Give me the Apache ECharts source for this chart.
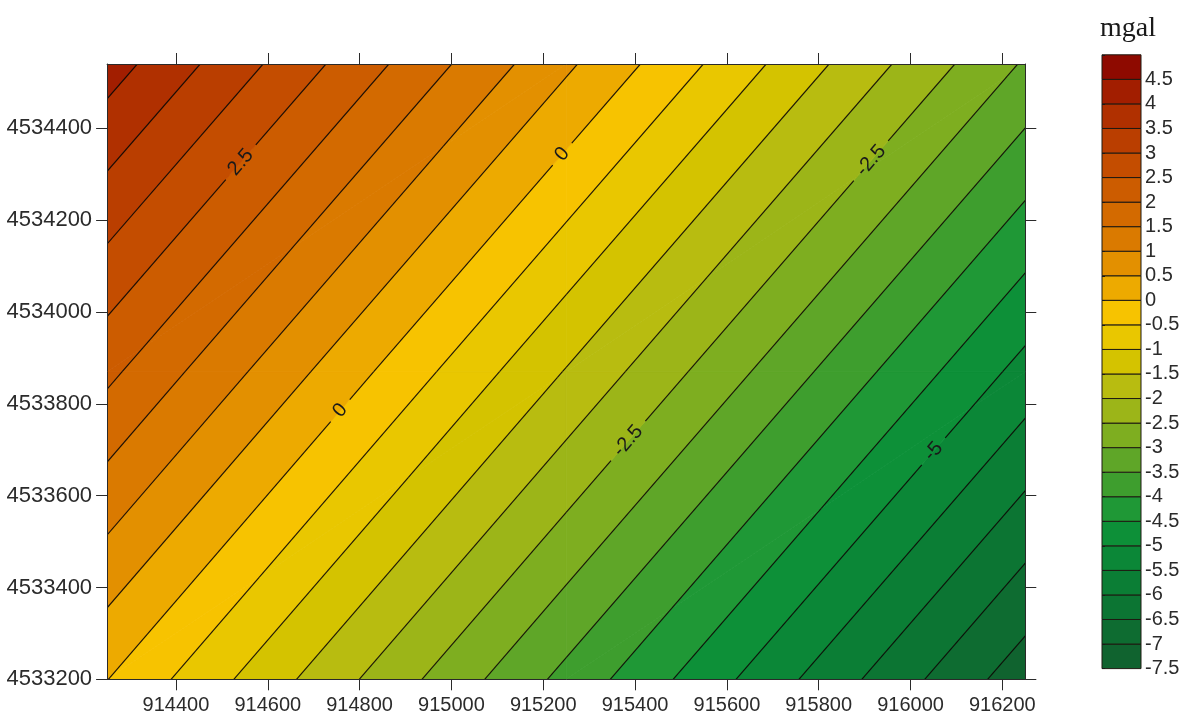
<!DOCTYPE html>
<html>
<head>
<meta charset="utf-8">
<script src="https://cdn.jsdelivr.net/npm/echarts@6/dist/echarts.min.js"></script>
<style>
  html, body { margin: 0; padding: 0; background: #ffffff; }
  #chart { width: 1192px; height: 715px; }
</style>
</head>
<body>
<div id="chart"></div>
<script>
// Gravity anomaly (mgal) sampled on a regular easting / northing lattice
const gridEastings = [914250, 915250, 916250];
const gridNorthings = [4533200, 4533870, 4534540];
// rows run south -> north, columns west -> east
const gridValues = [
  [0.01, -3.65, -7.30],
  [2.12, -1.53, -5.18],
  [4.24, 0.59, -3.06]
];

// contour levels (also the colour scale boundaries)
const contourLevels = [-7.5, -7, -6.5, -6, -5.5, -5, -4.5, -4, -3.5, -3, -2.5, -2, -1.5,
  -1, -0.5, 0, 0.5, 1, 1.5, 2, 2.5, 3, 3.5, 4, 4.5, 5];

// fill colour of each band, lowest band first
const bandColors = [
  '#10632f', '#0e6c31', '#0c7533', '#0b7e35', '#0b8737', '#0d9038', '#1f9836', '#3e9e2e',
  '#5fa628', '#7eae20', '#9cb518', '#b8bc10', '#d4c300', '#e9c700', '#f7c300', '#edaa00',
  '#e39000', '#da7a00', '#d36a00', '#cc5c00', '#c44d00', '#ba3e00', '#b03000', '#a21e00',
  '#8e0a00'
];

// axis tick positions
const eastingTicks = [914400, 914600, 914800, 915000, 915200, 915400, 915600, 915800, 916000, 916200];
const northingTicks = [4533200, 4533400, 4533600, 4533800, 4534000, 4534200, 4534400];

// inline contour labels: level and approximate location
const labelLevels = [2.5, 0, -2.5, 0, -2.5, -5];
const labelEastings = [914540, 915241, 915912, 914757, 915383, 916047];
const labelNorthings = [4534327, 4534344, 4534331, 4533786, 4533721, 4533699];

const FONT = '"Liberation Sans", Arial, sans-serif';

// ---- field helpers: the lattice is split into triangles, linear inside each ----
function buildTriangles() {
  const tris = [];
  const node = (i, j) => [gridEastings[i], gridNorthings[j], gridValues[j][i]];
  for (let j = 0; j < gridNorthings.length - 1; j++) {
    for (let i = 0; i < gridEastings.length - 1; i++) {
      const a = node(i, j), b = node(i + 1, j), c = node(i + 1, j + 1), d = node(i, j + 1);
      tris.push([a, b, c], [a, c, d]);
    }
  }
  return tris;
}
const triangles = buildTriangles();

function trianglePlane(tri) {
  const [a, b, c] = tri;
  const ux = b[0] - a[0], uy = b[1] - a[1], uz = b[2] - a[2];
  const wx = c[0] - a[0], wy = c[1] - a[1], wz = c[2] - a[2];
  const det = ux * wy - uy * wx;
  const ge = (uz * wy - uy * wz) / det;
  const gn = (ux * wz - uz * wx) / det;
  return { ge, gn, at: (e, n) => a[2] + ge * (e - a[0]) + gn * (n - a[1]) };
}

function findTriangle(e, n) {
  for (const tri of triangles) {
    const [a, b, c] = tri;
    const d = (b[1] - c[1]) * (a[0] - c[0]) + (c[0] - b[0]) * (a[1] - c[1]);
    const l1 = ((b[1] - c[1]) * (e - c[0]) + (c[0] - b[0]) * (n - c[1])) / d;
    const l2 = ((c[1] - a[1]) * (e - c[0]) + (a[0] - c[0]) * (n - c[1])) / d;
    const l3 = 1 - l1 - l2;
    if (l1 >= -1e-9 && l2 >= -1e-9 && l3 >= -1e-9) return tri;
  }
  return triangles[0];
}

// keep the part of a polygon above (or below) a level
function clipLevel(poly, level, keepAbove) {
  const out = [];
  for (let k = 0; k < poly.length; k++) {
    const p = poly[k], q = poly[(k + 1) % poly.length];
    const pin = keepAbove ? p[2] >= level : p[2] <= level;
    const qin = keepAbove ? q[2] >= level : q[2] <= level;
    if (pin) out.push(p);
    if (pin !== qin) {
      const t = (level - p[2]) / (q[2] - p[2]);
      out.push([p[0] + t * (q[0] - p[0]), p[1] + t * (q[1] - p[1]), level]);
    }
  }
  return out;
}

function levelSegments(level) {
  const segs = [];
  triangles.forEach(tri => {
    const pts = [];
    for (let k = 0; k < 3; k++) {
      const p = tri[k], q = tri[(k + 1) % 3];
      if ((p[2] >= level) !== (q[2] >= level)) {
        const t = (level - p[2]) / (q[2] - p[2]);
        pts.push([p[0] + t * (q[0] - p[0]), p[1] + t * (q[1] - p[1])]);
      }
    }
    if (pts.length === 2) segs.push(pts);
  });
  return segs;
}

// snap a label location onto its contour and get the line direction
function labelPlacement(i) {
  const tri = findTriangle(labelEastings[i], labelNorthings[i]);
  const pl = trianglePlane(tri);
  const e0 = labelEastings[i], n0 = labelNorthings[i];
  const g2 = pl.ge * pl.ge + pl.gn * pl.gn;
  const dz = labelLevels[i] - pl.at(e0, n0);
  return { e: e0 + dz * pl.ge / g2, n: n0 + dz * pl.gn / g2, te: -pl.gn, tn: pl.ge };
}

function textWidth(str, size) {
  let w = 0;
  for (const ch of str) w += ch === '.' ? 0.278 : ch === '-' ? 0.333 : 0.556;
  return w * size;
}

const LABEL_SIZE = 20;

function labelText(v) { return String(v); }

function labelGeometry(api, i) {
  const pl = labelPlacement(i);
  const c = api.coord([pl.e, pl.n]);
  const len = Math.sqrt(pl.te * pl.te + pl.tn * pl.tn);
  const d = api.coord([pl.e + pl.te / len * 100, pl.n + pl.tn / len * 100]);
  let dx = d[0] - c[0], dy = d[1] - c[1];
  if (dx < 0) { dx = -dx; dy = -dy; }
  const rot = Math.atan2(-dy, dx);
  const r = textWidth(labelText(labelLevels[i]), LABEL_SIZE) / 2 + 9;
  return { c, rot, r };
}

// split a pixel segment, removing parts inside label circles
function cutSegment(a, b, holes) {
  let pieces = [[0, 1]];
  const vx = b[0] - a[0], vy = b[1] - a[1];
  const A = vx * vx + vy * vy;
  holes.forEach(h => {
    const fx = a[0] - h.c[0], fy = a[1] - h.c[1];
    const B = 2 * (fx * vx + fy * vy);
    const C = fx * fx + fy * fy - h.r * h.r;
    const disc = B * B - 4 * A * C;
    if (disc <= 0 || A === 0) return;
    const s = Math.sqrt(disc);
    const t1 = (-B - s) / (2 * A), t2 = (-B + s) / (2 * A);
    const next = [];
    pieces.forEach(([u, v]) => {
      if (t2 <= u || t1 >= v) { next.push([u, v]); return; }
      if (t1 > u) next.push([u, t1]);
      if (t2 < v) next.push([t2, v]);
    });
    pieces = next;
  });
  return pieces.map(([u, v]) => [[a[0] + u * vx, a[1] + u * vy], [a[0] + v * vx, a[1] + v * vy]]);
}

const bandItems = bandColors.map((c, i) => [gridEastings[0], gridNorthings[0], i]);
const levelItems = contourLevels.map((lv, i) => [gridEastings[0], gridNorthings[0], i]);
const labelItems = labelLevels.map((lv, i) => [labelEastings[i], labelNorthings[i], i]);
const legendItems = bandColors.map((c, i) => [0, contourLevels[i], contourLevels[i + 1], i]);

const axisLineStyle = { color: '#2a2a2a', width: 1 };
const axisTickStyle = { color: '#2a2a2a', width: 1 };

const option = {
  animation: false,
  backgroundColor: '#ffffff',
  grid: [
    { left: 107.1, top: 64, width: 918.2, height: 615.3, containLabel: false, outerBoundsMode: 'none' },
    { left: 1102, top: 54.8, width: 39, height: 613.8, containLabel: false, outerBoundsMode: 'none' }
  ],
  graphic: [
    {
      type: 'text', left: 1100, top: 15, z: 10,
      style: { text: 'mgal', font: '28px "Liberation Serif", "Times New Roman", serif', fill: '#1a1a1a' }
    }
  ],
  xAxis: [
    {
      type: 'value', gridIndex: 0, position: 'bottom', min: 914250, max: 916250, z: 5,
      axisLine: { show: true, onZero: false, lineStyle: axisLineStyle },
      axisTick: { show: true, customValues: eastingTicks, length: 11, lineStyle: axisTickStyle },
      axisLabel: {
        show: true, customValues: eastingTicks, fontSize: 20, fontFamily: FONT, color: '#2b2b2b', margin: 16,
        formatter: v => String(v)
      },
      splitLine: { show: false }
    },
    {
      type: 'value', gridIndex: 0, position: 'top', min: 914250, max: 916250, z: 5,
      axisLine: { show: true, onZero: false, lineStyle: axisLineStyle },
      axisTick: { show: true, customValues: eastingTicks, length: 11, lineStyle: axisTickStyle },
      axisLabel: { show: false },
      splitLine: { show: false }
    },
    {
      type: 'value', gridIndex: 1, min: 0, max: 1, show: false
    }
  ],
  yAxis: [
    {
      type: 'value', gridIndex: 0, position: 'left', min: 4533200, max: 4534540, z: 5,
      axisLine: { show: true, onZero: false, lineStyle: axisLineStyle },
      axisTick: { show: true, customValues: northingTicks, length: 11, lineStyle: axisTickStyle },
      axisLabel: {
        show: true, customValues: northingTicks, fontSize: 22, fontFamily: FONT, color: '#2b2b2b', margin: 15,
        formatter: v => String(v)
      },
      splitLine: { show: false }
    },
    {
      type: 'value', gridIndex: 0, position: 'right', min: 4533200, max: 4534540, z: 5,
      axisLine: { show: true, onZero: false, lineStyle: axisLineStyle },
      axisTick: { show: true, customValues: northingTicks, length: 11, lineStyle: axisTickStyle },
      axisLabel: { show: false },
      splitLine: { show: false }
    },
    {
      type: 'value', gridIndex: 1, position: 'right', min: -7.5, max: 5, interval: 0.5, z: 5,
      axisLine: { show: false },
      axisTick: { show: true, length: 3, lineStyle: { color: '#1a1a1a', width: 1 } },
      axisLabel: {
        show: true, fontSize: 20, fontFamily: FONT, color: '#2b2b2b', margin: 4,
        formatter: v => (v === 5 ? '' : String(v))
      },
      splitLine: { show: false }
    }
  ],
  series: [
    {
      // filled contour bands
      type: 'custom', name: 'bands', xAxisIndex: 0, yAxisIndex: 0, clip: true, z: 1,
      data: bandItems,
      renderItem(params, api) {
        const band = api.value(2);
        const lo = contourLevels[band], hi = contourLevels[band + 1];
        const color = bandColors[band];
        const children = [];
        triangles.forEach(tri => {
          let poly = clipLevel(tri, lo, true);
          if (poly.length < 3) return;
          poly = clipLevel(poly, hi, false);
          if (poly.length < 3) return;
          children.push({
            type: 'polygon',
            shape: { points: poly.map(p => api.coord([p[0], p[1]])) },
            style: { fill: color, stroke: color, lineWidth: 0.8 }
          });
        });
        return { type: 'group', children };
      }
    },
    {
      // contour lines, broken where a label sits
      type: 'custom', name: 'contours', xAxisIndex: 0, yAxisIndex: 0, clip: true, z: 2,
      data: levelItems,
      renderItem(params, api) {
        const level = contourLevels[api.value(2)];
        const holes = [];
        labelLevels.forEach((lv, i) => { if (lv === level) holes.push(labelGeometry(api, i)); });
        const children = [];
        levelSegments(level).forEach(seg => {
          const a = api.coord(seg[0]), b = api.coord(seg[1]);
          cutSegment(a, b, holes).forEach(piece => {
            children.push({
              type: 'line',
              shape: { x1: piece[0][0], y1: piece[0][1], x2: piece[1][0], y2: piece[1][1] },
              style: { stroke: 'rgba(12,8,4,0.92)', lineWidth: 1.15 }
            });
          });
        });
        return { type: 'group', children };
      }
    },
    {
      // inline contour values
      type: 'custom', name: 'contour labels', xAxisIndex: 0, yAxisIndex: 0, clip: true, z: 3,
      data: labelItems,
      renderItem(params, api) {
        const i = api.value(2);
        const g = labelGeometry(api, i);
        return {
          type: 'text',
          x: g.c[0], y: g.c[1], rotation: g.rot,
          style: {
            text: labelText(labelLevels[i]), fill: '#1a1a1a',
            font: LABEL_SIZE + 'px ' + FONT, align: 'center', verticalAlign: 'middle'
          }
        };
      }
    },
    {
      // colour scale
      type: 'custom', name: 'scale', xAxisIndex: 2, yAxisIndex: 2, clip: false, z: 1,
      data: legendItems,
      renderItem(params, api) {
        const top = api.coord([0, api.value(2)]);
        const bottom = api.coord([1, api.value(1)]);
        return {
          type: 'rect',
          shape: { x: top[0], y: top[1], width: bottom[0] - top[0], height: bottom[1] - top[1] },
          style: { fill: bandColors[api.value(3)], stroke: '#1f1a12', lineWidth: 1 }
        };
      }
    }
  ]
};

const chart = echarts.init(document.getElementById('chart'), null, { renderer: 'canvas' });
chart.setOption(option);
</script>
</body>
</html>
